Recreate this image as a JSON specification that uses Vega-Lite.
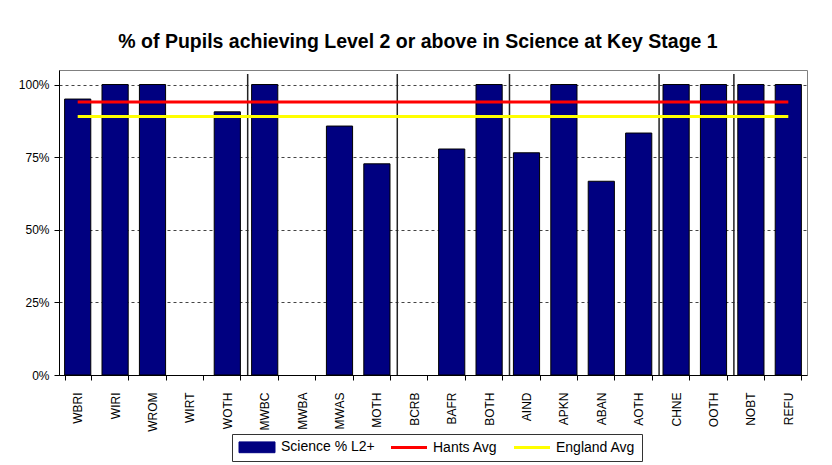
{
  "$schema": "https://vega.github.io/schema/vega-lite/v6.json",
  "width": 748,
  "height": 305,
  "autosize": "none",
  "padding": {"left": 59, "top": 70, "right": 25, "bottom": 90},
  "background": "white",
  "title": {
    "text": "% of Pupils achieving Level 2 or above in Science at Key Stage 1",
    "font": "Liberation Sans",
    "fontSize": 19.5,
    "fontWeight": "bold",
    "color": "black",
    "anchor": "middle",
    "baseline": "alphabetic",
    "offset": 3,
    "dx": -15
  },
  "datasets": {
    "pupils": [
      {"cat": "WBRI", "science": 95.0, "Hants Avg": 94, "England Avg": 89},
      {"cat": "WIRI", "science": 100, "Hants Avg": 94, "England Avg": 89},
      {"cat": "WROM", "science": 100, "Hants Avg": 94, "England Avg": 89},
      {"cat": "WIRT", "science": null, "Hants Avg": 94, "England Avg": 89},
      {"cat": "WOTH", "science": 90.6, "Hants Avg": 94, "England Avg": 89},
      {"cat": "MWBC", "science": 100, "Hants Avg": 94, "England Avg": 89},
      {"cat": "MWBA", "science": null, "Hants Avg": 94, "England Avg": 89},
      {"cat": "MWAS", "science": 85.7, "Hants Avg": 94, "England Avg": 89},
      {"cat": "MOTH", "science": 72.7, "Hants Avg": 94, "England Avg": 89},
      {"cat": "BCRB", "science": null, "Hants Avg": 94, "England Avg": 89},
      {"cat": "BAFR", "science": 77.8, "Hants Avg": 94, "England Avg": 89},
      {"cat": "BOTH", "science": 100, "Hants Avg": 94, "England Avg": 89},
      {"cat": "AIND", "science": 76.5, "Hants Avg": 94, "England Avg": 89},
      {"cat": "APKN", "science": 100, "Hants Avg": 94, "England Avg": 89},
      {"cat": "ABAN", "science": 66.7, "Hants Avg": 94, "England Avg": 89},
      {"cat": "AOTH", "science": 83.3, "Hants Avg": 94, "England Avg": 89},
      {"cat": "CHNE", "science": 100, "Hants Avg": 94, "England Avg": 89},
      {"cat": "OOTH", "science": 100, "Hants Avg": 94, "England Avg": 89},
      {"cat": "NOBT", "science": 100, "Hants Avg": 94, "England Avg": 89},
      {"cat": "REFU", "science": 100, "Hants Avg": 94, "England Avg": 89}
    ],
    "separators": [
      {"cat": "MWBC"},
      {"cat": "BCRB"},
      {"cat": "AIND"},
      {"cat": "CHNE"},
      {"cat": "NOBT"}
    ]
  },
  "config": {
    "view": {"stroke": "#808080", "strokeWidth": 1},
    "axis": {
      "labelFont": "Liberation Sans",
      "labelColor": "black",
      "domainColor": "black",
      "tickColor": "black",
      "tickSize": 5
    },
    "legend": {
      "orient": "none",
      "legendX": 173,
      "legendY": 364,
      "direction": "horizontal",
      "strokeColor": "#333",
      "fillColor": "white",
      "padding": 6,
      "labelFont": "Liberation Sans",
      "labelFontSize": 14,
      "labelColor": "black",
      "labelOffset": 29,
      "columnPadding": 10,
      "symbolSize": 144
    }
  },
  "layer": [
    {
      "data": {"name": "pupils"},
      "mark": {"type": "bar", "stroke": "black", "strokeWidth": 1},
      "encoding": {
        "x": {
          "field": "cat",
          "type": "nominal",
          "title": null,
          "scale": {
            "domain": ["WBRI", "WIRI", "WROM", "WIRT", "WOTH", "MWBC", "MWBA", "MWAS", "MOTH", "BCRB", "BAFR", "BOTH", "AIND", "APKN", "ABAN", "AOTH", "CHNE", "OOTH", "NOBT", "REFU"],
            "paddingInner": 0.3,
            "paddingOuter": 0.15
          },
          "axis": {
            "labelAngle": -90,
            "labelFontSize": 12,
            "labelPadding": 12,
            "tickBand": "extent",
            "grid": false
          }
        },
        "y": {
          "field": "science",
          "type": "quantitative",
          "title": null,
          "scale": {"domain": [0, 105], "nice": false},
          "axis": {
            "values": [0, 25, 50, 75, 100],
            "labelExpr": "datum.value + '%'",
            "labelFontSize": 12,
            "labelPadding": 5,
            "grid": true,
            "gridDash": [3, 3],
            "gridColor": "#444",
            "gridWidth": 1
          }
        },
        "color": {
          "datum": "Science % L2+",
          "type": "nominal",
          "title": null,
          "scale": {
            "domain": ["Science % L2+", "Hants Avg", "England Avg"],
            "range": ["#000080", "#FF0000", "#FFFF00"]
          },
          "legend": {
            "title": null,
            "encode": {
              "symbols": {
                "update": {
                  "shape": {"signal": "datum.value === 'Science % L2+' ? 'M-1,-0.9H5V0.9H-1Z' : 'M-1,0H5'"},
                  "fill": {"signal": "datum.value === 'Science % L2+' ? '#000080' : 'transparent'"},
                  "stroke": {"signal": "datum.value === 'Science % L2+' ? 'black' : (datum.value === 'Hants Avg' ? '#FF0000' : '#FFFF00')"},
                  "strokeWidth": {"signal": "datum.value === 'Science % L2+' ? 1 : 3"},
                  "opacity": {"value": 1}
                }
              }
            }
          }
        }
      }
    },
    {
      "data": {"name": "separators"},
      "mark": {"type": "rule", "color": "#222", "strokeWidth": 1.5},
      "encoding": {
        "x": {"field": "cat", "type": "nominal", "bandPosition": -0.15, "title": null},
        "y": {"datum": 0, "type": "quantitative"},
        "y2": {"datum": 103.6}
      }
    },
    {
      "data": {"name": "pupils"},
      "transform": [{"fold": ["Hants Avg", "England Avg"], "as": ["series", "avg"]}],
      "mark": {"type": "line", "strokeWidth": 3},
      "encoding": {
        "x": {"field": "cat", "type": "nominal", "title": null},
        "y": {"field": "avg", "type": "quantitative", "title": null},
        "color": {
          "field": "series",
          "type": "nominal",
          "title": null,
          "legend": {
            "title": null,
            "encode": {
              "symbols": {
                "update": {
                  "shape": {"signal": "datum.value === 'Science % L2+' ? 'M-1,-0.9H5V0.9H-1Z' : 'M-1,0H5'"},
                  "fill": {"signal": "datum.value === 'Science % L2+' ? '#000080' : 'transparent'"},
                  "stroke": {"signal": "datum.value === 'Science % L2+' ? 'black' : (datum.value === 'Hants Avg' ? '#FF0000' : '#FFFF00')"},
                  "strokeWidth": {"signal": "datum.value === 'Science % L2+' ? 1 : 3"},
                  "opacity": {"value": 1}
                }
              }
            }
          }
        }
      }
    }
  ]
}
